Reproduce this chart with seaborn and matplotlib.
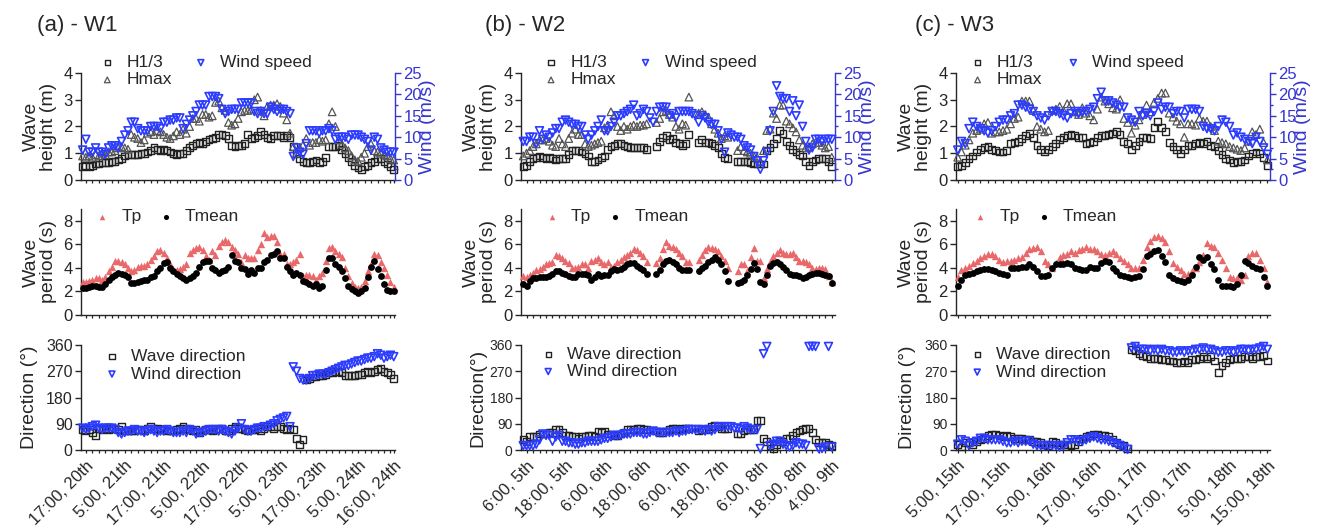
import numpy as np
import pandas as pd
import matplotlib
matplotlib.use("Agg")
import matplotlib.pyplot as plt
import seaborn as sns
from matplotlib.ticker import FixedLocator, MultipleLocator

nan = np.nan

# ---------------- data: panel (a) W1, hourly from 16:00 20th ----------------
a_labels = ["17:00, 20th", "5:00, 21th", "17:00, 21th", "5:00, 22th", "17:00, 22th",
            "5:00, 23th", "17:00, 23th", "5:00, 24th", "16:00, 24th"]
a_label_hours = [1, 13, 25, 37, 49, 61, 73, 85, 96]
a_h13 = [0.5, 0.55, 0.5, 0.55, 0.6, 0.6, 0.65, 0.65, 0.65, 0.7,
         0.7, 0.75, 0.8, 0.9, 0.95, 0.95, 0.95, 0.95, 1.0, 1.0,
         1.05, 1.1, 1.2, 1.15, 1.1, 1.15, 1.1, 1.05, 1.0, 0.95,
         1.0, 1.0, 1.1, 1.2, 1.3, 1.35, 1.4, 1.35, 1.45, 1.5,
         1.55, 1.6, 1.7, 1.7, 1.65, 1.55, 1.3, 1.25, 1.3, 1.3,
         1.35, 1.7, 1.55, 1.6, 1.65, 1.8, 1.7, 1.6, 1.55, 1.65,
         1.65, 1.65, 1.6, 1.65, 1.6, 1.25, 1.0, 0.8, 0.7, 0.65,
         0.65, 0.7, 0.75, 0.65, 0.7, 0.85, 1.25, 1.25, 1.25, 1.3,
         1.15, 1.0, 0.85, 0.7, 0.55, 0.45, 0.4, 0.5, 0.55, 0.65,
         0.7, 0.8, 0.8, 0.7, 0.6, 0.5, 0.4]
a_hmax = [0.9, 0.85, 0.9, 0.85, 0.95, 0.9, 1.0, 0.95, 1.05, 1.05,
          1.1, 1.2, 1.25, 1.2, 1.15, 1.7, 1.6, 1.55, 1.4, 1.5,
          1.75, 1.8, 1.7, 1.85, 1.8, 1.7, 1.6, 1.55, 1.65, 1.8,
          1.7, 1.9, 1.75, 2.0, 2.3, 2.3, 2.2, 2.45, 2.45, 2.35,
          2.4, 2.9, 2.95, 2.7, 2.6, 2.15, 2.05, 2.1, 2.3, 2.55,
          2.6, 2.6, 2.65, 3.0, 3.1, 2.6, 2.4, 2.75, 2.8, 2.8,
          2.85, 2.75, 2.5, 2.25, 1.75, 1.25, 1.0, 1.2, 1.3, 1.55,
          1.3, 1.4, 1.4, 1.5, 1.45, 1.5, 2.1, 2.55, 2.0, 1.5,
          1.35, 1.2, 1.1, 0.9, 0.75, 0.7, 0.85, 1.0, 1.25, 1.35,
          1.1, 1.05, 1.0, 0.95, 0.9, 0.8, 0.75]
a_wind = [7.0, 9.5, 6.5, 6.5, 7.5, 6.5, 6.5, 6.0, 7.5, 8.0,
          8.0, 7.5, 9.0, 10.5, 11.5, 13.5, 13.5, 12.0, 11.5, 11.5,
          11.5, 12.5, 12.5, 12.5, 12.0, 13.5, 13.5, 14.0, 14.0, 14.5,
          14.5, 12.0, 13.0, 14.0, 15.0, 16.0, 17.5, 17.5, 17.5, 19.5,
          19.5, 19.5, 19.0, 16.5, 15.5, 16.0, 16.5, 16.5, 16.5, 18.0,
          18.0, 18.0, 18.0, 16.0, 15.5, 16.0, 15.5, 15.5, 17.0, 16.5,
          16.0, 16.5, 16.5, 16.0, 15.5, 5.5, 7.5, 6.5, 6.0, 8.5,
          11.5, 11.5, 11.5, 11.0, 11.5, 11.5, 12.0, 11.5, 9.5, 10.0,
          10.0, 10.0, 9.5, 10.5, 10.5, 10.5, 10.0, 9.5, 9.0, 7.0,
          10.0, 9.5, 7.5, 7.0, 6.5, 6.5, 6.5]
a_tp = [2.8, 2.8, 2.9, 3.0, 3.1, 3.1, 3.0, 3.2, 3.7, 4.1,
        4.6, 4.6, 4.5, 4.3, 4.0, 3.7, 3.8, 4.1, 4.2, 4.2,
        4.3, 4.7, 5.0, 5.4, 5.5, 5.3, 4.8, 4.3, 3.9, 3.8,
        3.9, 4.1, 4.3, 5.3, 5.5, 5.7, 5.8, 5.5, 5.0, 4.7,
        5.4, 5.1, 5.9, 6.2, 6.4, 6.2, 5.8, 5.5, 5.2, 4.5,
        5.1, 4.8, 4.8, 4.8, 5.5, 6.0, 7.0, 6.6, 6.7, 6.7,
        6.2, 5.2, 5.2, 4.3, 4.3, 4.5, 4.7, 5.2, 3.3, 3.4,
        3.4, 3.3, 3.0, 3.3, 3.6, 4.6, 5.7, 5.8, 5.4, 5.2,
        4.9, 4.0, 3.3, 2.7, 2.4, 2.3, 2.4, 2.9, 3.7, 4.3,
        5.2, 5.1, 4.5, 4.0, 3.4, 2.8, 2.4]
a_tm = [2.3, 2.3, 2.4, 2.5, 2.5, 2.4, 2.4, 2.6, 3.0, 3.2,
        3.4, 3.6, 3.5, 3.4, 3.2, 2.7, 2.7, 2.8, 2.9, 3.0,
        3.0, 3.2, 3.3, 3.7, 4.0, 4.4, 4.5, 4.0, 3.7, 3.5,
        3.3, 3.1, 3.0, 3.1, 3.3, 3.6, 4.1, 4.5, 4.6, 4.6,
        4.0, 3.8, 3.6, 3.7, 3.8, 4.1, 5.1, 4.6, 4.5, 4.0,
        3.9, 3.5, 3.8, 3.6, 4.0, 4.0, 4.5, 4.7, 5.1, 5.2,
        5.4, 4.8, 4.8, 4.1, 3.7, 3.4, 3.6, 3.4, 2.9, 2.8,
        2.6, 2.5, 2.6, 2.3, 2.5, 3.8, 4.8, 4.8, 4.3, 4.1,
        3.7, 3.1, 2.5, 2.2, 2.0, 1.9, 2.0, 2.3, 3.2, 4.1,
        4.6, 3.9, 3.3, 2.6, 2.1, 2.0, 2.0]
a_wavedir = [70, 65, 70, 60, 50, 75, 70, 75, 70, 75,
             75, 70, 80, 65, 65, 65, 65, 70, 70, 65,
             75, 80, 75, 75, 70, 70, 65, 65, 65, 70,
             75, 80, 75, 70, 65, 70, 60, 65, 70, 70,
             65, 70, 75, 75, 65, 65, 75, 80, 75, 75,
             70, 65, 70, 70, 75, 65, 75, 80, 80, 75,
             80, 80, 75, 70, 75, 70, 40, 20, 35, 240,
             245, 250, 250, 255, 255, 260, 265, 265, 270, 270,
             265, 255, 255, 255, 255, 260, 260, 265, 270, 265,
             270, 275, 280, 270, 265, 260, 245]
a_winddir = [75, 70, 75, 80, 85, 75, 70, 75, 75, 75,
             70, 60, 55, 60, 65, 65, 70, 65, 65, 60,
             65, 70, 65, 60, 65, 65, 70, 65, 60, 60,
             60, 65, 60, 70, 65, 55, 60, 60, 65, 70,
             70, 70, 65, 70, 65, 60, 55, 65, 75, 90,
             70, 65, 65, 70, 75, 75, 80, 80, 85, 90,
             100, 105, 110, 115, 80, 285, 270, 245, 240, 240,
             245, 255, 255, 260, 260, 260, 265, 270, 275, 280,
             285, 290, 290, 295, 300, 305, 305, 310, 315, 315,
             320, 330, 325, 315, 320, 325, 320]

# ---------------- data: panel (b) W2, hourly from 5:00 5th ----------------
b_labels = ["6:00, 5th", "18:00, 5th", "6:00, 6th", "18:00, 6th", "6:00, 7th",
            "18:00, 7th", "6:00, 8th", "18:00, 8th", "4:00, 9th"]
b_label_hours = [1, 13, 25, 37, 49, 61, 73, 85, 95]
b_h13 = [0.5, 0.55, 0.7, 0.8, 0.85, 0.9, 0.85, 0.8, 0.85, 0.8,
         0.75, 0.8, 0.8, 0.8, 0.95, 1.1, 1.1, 1.1, 1.05, 1.0,
         0.9, 0.7, 0.7, 0.75, 0.85, 0.9, 1.15, 1.25, 1.3, 1.35,
         1.35, 1.3, 1.25, 1.2, 1.2, 1.2, 1.2, 1.2, 1.15, nan,
         nan, 1.25, 1.45, 1.6, 1.65, 1.5, 1.55, 1.4, 1.35, 1.3,
         1.35, 1.7, nan, nan, 1.4, 1.5, 1.4, 1.4, 1.35, 1.3,
         1.2, 1.0, 0.85, 0.8, nan, nan, 0.7, 0.7, 0.7, 0.7,
         0.65, 0.6, 0.6, 0.6, 0.6, 1.1, 1.2, 1.35, 1.55, 1.85,
         1.75, 1.45, 1.3, 1.15, 1.05, 0.95, 0.9, 0.7, 0.55, 0.7,
         0.75, 0.8, 0.8, 0.8, 0.7, 0.5]
b_hmax = [0.9, 1.0, 1.1, 1.25, 1.35, 1.5, 1.5, 1.55, 1.45, 1.3,
          1.25, 1.55, 1.35, 1.25, 1.55, 1.75, 1.9, 1.7, 1.7, 1.35,
          1.25, 1.3, 1.35, 1.4, 1.45, 1.95, 2.05, 2.55, 2.4, 2.0,
          1.85, 2.0, 1.9, 2.0, 2.05, 2.0, 2.05, 2.05, 2.1, nan,
          nan, 2.15, 2.3, 2.55, 2.6, 2.45, 2.35, 2.0, 1.9, 2.1,
          2.05, 3.1, nan, nan, 2.5, 2.55, 2.45, 2.35, 2.1, 1.9,
          1.75, 1.55, 1.65, 1.6, nan, nan, 1.1, 1.25, 1.1, 1.05,
          1.0, 0.9, 0.85, 0.7, 1.1, 1.85, 1.9, 2.5, 2.3, 2.8,
          2.8, 2.2, 2.1, 1.95, 1.8, 1.5, 1.3, 1.2, 1.25, 1.35,
          1.4, 1.4, 1.3, 1.2, 1.25, 0.85]
b_wind = [9.0, 9.0, 10.0, 10.0, 8.5, 11.5, 9.5, 10.5, 10.0, 11.0,
          12.0, 12.0, 13.5, 14.0, 13.5, 13.0, 13.0, 12.5, 12.5, 10.5,
          9.5, 10.5, 11.5, 12.5, 14.0, 11.5, 11.5, 12.5, 13.5, 15.0,
          15.0, 15.5, 16.0, 16.5, 17.5, 15.0, 15.5, 16.5, 16.0, 14.5,
          13.5, 16.0, 17.0, 17.0, 17.0, 15.0, 15.5, 14.5, 16.0, 16.0,
          16.0, 16.0, 15.5, 15.0, 13.5, 15.0, 14.5, 13.5, 13.0, 13.0,
          11.5, 9.5, 6.5, 11.0, 10.5, 10.0, 10.0, 9.5, 8.0, 7.5,
          7.0, 5.5, 4.5, 2.5, 4.5, 6.5, 11.5, 16.0, 22.0, 19.5,
          19.0, 19.0, 16.0, 18.5, 15.0, 17.5, 12.5, 9.0, 7.0, 7.5,
          9.5, 9.5, 9.0, 9.5, 9.5, 9.5]
b_tp = [3.3, 3.2, 3.4, 3.6, 3.8, 3.9, 4.1, 4.3, 4.4, 4.5,
        5.1, 5.0, 4.8, 4.6, 4.4, 4.0, 4.0, 4.1, 4.3, 4.3,
        4.0, 4.6, 4.7, 4.8, 4.5, 4.3, 4.5, 4.1, 4.2, 4.5,
        4.7, 4.9, 5.1, 5.3, 5.6, 5.5, 5.3, 5.0, 4.5, nan,
        nan, 4.4, 4.8, 5.6, 6.2, 5.9, 5.8, 5.6, 5.3, 5.0,
        4.5, 4.5, nan, nan, 4.7, 5.1, 5.5, 5.8, 5.7, 5.6,
        5.4, 5.0, 4.6, 4.0, nan, nan, 3.7, 4.3, 4.3, 3.7,
        4.9, 5.7, 4.6, 4.6, 3.1, 3.9, 4.5, 5.0, 5.3, 5.5,
        5.3, 5.2, 5.2, 5.3, 4.9, 4.6, 4.6, 4.5, 4.3, 4.0,
        3.9, 4.0, 4.0, 3.9, 3.3, 2.8]
b_tm = [2.6, 2.5, 2.9, 3.1, 3.1, 3.2, 3.2, 3.2, 3.3, 3.5,
        3.7, 3.7, 3.6, 3.5, 3.3, 3.2, 3.2, 3.5, 3.5, 3.5,
        3.4, 3.0, 3.2, 3.5, 3.3, 3.4, 3.4, 3.7, 3.9, 3.8,
        3.9, 4.1, 4.3, 4.4, 4.4, 4.2, 4.0, 3.8, 3.5, nan,
        nan, 3.5, 3.8, 4.3, 4.6, 4.7, 4.5, 4.3, 4.0, 3.8,
        3.8, 3.8, nan, nan, 3.7, 4.0, 4.2, 4.5, 4.7, 4.9,
        4.7, 4.3, 3.7, 2.9, nan, nan, 2.7, 2.8, 3.0, 3.4,
        3.9, 4.4, 3.9, 2.8, 2.6, 3.4, 4.2, 4.4, 4.5, 4.3,
        4.1, 3.8, 3.5, 3.4, 3.4, 3.3, 3.1, 3.2, 3.4, 3.5,
        3.6, 3.6, 3.5, 3.4, 3.3, 2.7]
b_wavedir = [35, 30, 45, 45, 45, 55, 55, 55, 60, 60,
             70, 70, 60, 50, 50, 45, 45, 40, 45, 45,
             50, 50, 45, 65, 60, 65, 55, 55, 50, 50,
             55, 60, 70, 70, 70, 75, 75, 70, 70, nan,
             nan, 65, 60, 60, 65, 70, 75, 75, 70, 75,
             75, 75, nan, nan, 65, 70, 70, 75, 80, 85,
             80, 75, 75, 75, nan, nan, 55, 55, 65, 70,
             70, 70, 100, 100, 40, 30, 15, 5, 20, 30,
             30, 40, 40, 50, 60, 65, 70, 75, 75, 60,
             35, 25, 25, 25, 20, 15]
b_winddir = [15, 15, 15, 15, 20, 35, 55, 50, 50, 30,
             45, 50, 30, 30, 25, 25, 20, 20, 25, 25,
             30, 30, 30, 30, 35, 40, 40, 45, 50, 50,
             50, 55, 55, 55, 60, 60, 60, 55, 55, 60,
             65, 60, 60, 60, 60, 60, 60, 65, 60, 65,
             65, 70, 70, 70, 70, 70, 65, 70, 65, 70,
             80, 80, 80, 80, 80, 75, 75, 70, 80, 75,
             70, 70, 70, 5, 330, 355, 15, 20, 30, 30,
             20, 15, 10, 15, 25, 20, 20, 15, 355, 355,
             355, 5, 5, 10, 355, 10]

# ---------------- data: panel (c) W3, hourly from 5:00 15th ----------------
c_labels = ["5:00, 15th", "17:00, 15th", "5:00, 16th", "17:00, 16th", "5:00, 17th",
            "17:00, 17th", "5:00, 18th", "15:00, 18th"]
c_label_hours = [0, 12, 24, 36, 48, 60, 72, 82]
c_h13 = [0.5, 0.55, 0.65, 0.8, 0.9, 1.05, 1.15, 1.2, 1.25, 1.15,
         1.1, 1.05, 1.05, 1.1, 1.35, 1.4, 1.45, 1.55, 1.65, 1.75,
         1.6, 1.3, 1.15, 1.05, 1.15, 1.25, 1.35, 1.5, 1.6, 1.65,
         1.7, 1.65, 1.6, 1.6, 1.35, 1.4, 1.45, 1.6, 1.65, 1.65,
         1.7, 1.75, 1.8, 1.7, 1.45, 1.35, 1.15, 1.3, 1.45, 1.6,
         1.6, 1.55, 1.95, 2.2, 1.95, 1.8, 1.4, 1.25, 1.15, 1.0,
         1.15, 1.3, 1.3, 1.35, 1.4, 1.35, 1.45, 1.3, 1.25, 1.1,
         0.95, 0.8, 0.75, 0.65, 0.7, 0.7, 0.75, 0.9, 1.0, 1.05,
         1.0, 0.85, 0.55]
c_hmax = [0.85, 1.05, 1.3, 1.5, 1.75, 1.85, 1.9, 2.1, 2.15, 1.75,
          1.8, 1.8, 1.85, 1.9, 2.1, 2.3, 2.35, 2.95, 2.95, 2.95,
          2.6, 2.0, 1.9, 1.8, 1.85, 2.6, 2.65, 2.75, 2.6, 2.85,
          2.85, 2.55, 2.45, 2.7, 2.5, 2.4, 2.25, 2.65, 3.1, 2.95,
          2.85, 2.7, 2.65, 3.0, 2.3, 2.15, 1.75, 2.05, 2.25, 2.45,
          2.8, 2.55, 2.9, 3.05, 3.25, 3.25, 2.5, 2.35, 2.2, 2.1,
          1.6, 2.1, 2.1, 2.05, 2.3, 2.2, 2.2, 2.0, 1.85, 1.45,
          1.4, 1.35, 1.25, 1.2, 1.15, 1.1, 1.2, 1.45, 1.8, 1.7,
          1.9, 1.4, 0.75]
c_wind = [7.0, 9.0, 8.5, 12.0, 13.5, 12.5, 12.0, 11.5, 11.0, 11.5,
          12.5, 13.5, 14.0, 14.0, 15.0, 15.5, 17.5, 17.5, 17.0, 16.5,
          16.0, 15.0, 14.5, 14.0, 15.0, 16.0, 16.0, 15.5, 15.0, 14.5,
          15.5, 16.0, 15.5, 16.0, 16.0, 16.5, 17.0, 19.0, 20.5, 18.5,
          18.5, 18.0, 17.5, 17.0, 17.0, 14.5, 14.0, 13.5, 16.0, 15.0,
          15.5, 15.0, 16.0, 18.0, 16.5, 17.0, 17.0, 15.5, 16.0, 16.0,
          14.5, 16.5, 16.5, 16.5, 16.0, 12.5, 12.0, 12.0, 11.5, 12.5,
          14.0, 13.5, 12.5, 10.5, 11.0, 10.0, 9.5, 9.0, 8.5, 10.0,
          9.0, 7.5, 6.0]
c_tp = [3.2, 3.8, 4.0, 4.2, 4.4, 4.6, 4.8, 5.0, 5.2, 5.2,
        5.0, 4.7, 4.5, 4.6, 4.6, 4.7, 4.8, 4.9, 5.3, 5.6,
        5.7, 5.8, 5.4, 4.6, 4.3, 4.0, 4.4, 4.9, 5.1, 5.2,
        5.4, 5.3, 5.5, 5.6, 5.8, 5.6, 5.6, 5.4, 5.2, 5.1,
        5.3, 5.4, 5.2, 4.8, 4.6, 4.3, 4.0, 4.0, 4.0, 4.7,
        5.8, 6.3, 6.6, 6.7, 6.5, 6.2, 5.4, 4.4, 4.1, 3.8,
        3.5, 3.5, 3.7, 4.0, 4.5, 5.1, 6.1, 5.9, 5.8, 5.3,
        4.7, 4.0, 3.2, 3.1, 3.1, 3.0, 3.4, 5.0, 5.3, 5.3,
        4.7, 4.0, 2.8]
c_tm = [2.5, 3.0, 3.4, 3.5, 3.6, 3.7, 3.8, 3.9, 3.9, 3.8,
        3.7, 3.6, 3.5, 3.4, 4.0, 4.0, 4.0, 4.1, 4.1, 4.3,
        4.1, 3.7, 3.3, 3.3, 3.4, 4.0, 4.3, 4.3, 4.3, 4.4,
        4.3, 4.0, 3.9, 3.8, 3.8, 4.1, 4.0, 4.0, 4.4, 4.6,
        4.5, 4.0, 3.7, 3.4, 3.3, 3.2, 3.1, 3.2, 3.3, 3.9,
        5.0, 5.2, 5.4, 5.5, 5.0, 4.5, 3.4, 3.1, 3.0, 2.9,
        2.8, 3.0, 3.4, 4.1, 4.9, 4.7, 4.9, 4.3, 3.9, 3.0,
        2.5, 2.5, 2.5, 2.4, 2.6, 3.4, 4.6, 4.4, 4.2, 4.0,
        3.9, 3.2, 2.5]
c_wavedir = [20, 10, 25, 25, 20, 30, 35, 40, 50, 55,
             55, 50, 45, 50, 45, 40, 40, 40, 35, 35,
             30, 30, 25, 20, 15, 30, 25, 20, 20, 20,
             15, 20, 30, 40, 45, 50, 55, 55, 50, 50,
             45, 35, 25, 20, 15, 5, 345, 340, 330, 325,
             320, 315, 315, 315, 310, 310, 305, 305, 300, 300,
             305, 300, 310, 310, 315, 320, 315, 320, 305, 265,
             290, 300, 310, 315, 315, 315, 320, 320, 315, 320,
             320, 325, 305]
c_winddir = [20, 35, 30, 15, 25, 30, 40, 40, 35, 35,
             35, 35, 30, 25, 25, 30, 25, 30, 30, 30,
             20, 15, 15, 15, 15, 15, 15, 10, 15, 25,
             35, 35, 30, 30, 35, 40, 45, 40, 35, 35,
             30, 25, 20, 15, 8, 2, 350, 355, 345, 345,
             345, 340, 345, 340, 345, 340, 340, 335, 335, 340,
             335, 340, 340, 345, 345, 350, 345, 345, 340, 335,
             335, 340, 340, 335, 340, 345, 345, 340, 345, 345,
             350, 355, 345]

titles = ["(a) - W1", "(b) - W2", "(c) - W3"]
dir_ylabels = ["Direction (°)", "Direction(°)", "Direction (°)"]

# ---------------- style ----------------
sns.set_theme(style="ticks")
plt.rcParams["font.family"] = ["Liberation Sans", "DejaVu Sans"]
plt.rcParams["axes.linewidth"] = 1.0

BLUE = "#2b3cff"
AXBLUE = "#3535d0"
RED = "#e9686a"
DARK = "#222222"
GREY = "#555555"

panels = [
    dict(title=titles[0], labels=a_labels, lab_h=a_label_hours, h13=a_h13, hmax=a_hmax,
         wind=a_wind, tp=a_tp, tm=a_tm, wdir=a_wavedir, udir=a_winddir, dirlab=dir_ylabels[0],
         xlim=(-0.5, 96.4), left=81, tx=37, leg_top=(0.056, 0.354), leg_mid=0.040,
         leg_bot=(0.071, 0.96), dir_fs=11.5, dir_lab_x=-0.137),
    dict(title=titles[1], labels=b_labels, lab_h=b_label_hours, h13=b_h13, hmax=b_hmax,
         wind=b_wind, tp=b_tp, tm=b_tm, wdir=b_wavedir, udir=b_winddir, dirlab=dir_ylabels[1],
         xlim=(-0.7, 96.0), left=521, tx=485, leg_top=(0.068, 0.369), leg_mid=0.070,
         leg_bot=(0.059, 0.984), dir_fs=10, dir_lab_x=-0.111),
    dict(title=titles[2], labels=c_labels, lab_h=c_label_hours, h13=c_h13, hmax=c_hmax,
         wind=c_wind, tp=c_tp, tm=c_tm, wdir=c_wavedir, udir=c_winddir, dirlab=dir_ylabels[2],
         xlim=(-0.45, 82.7), left=956, tx=915, leg_top=(0.041, 0.346), leg_mid=0.049,
         leg_bot=(0.040, 0.978), dir_fs=10, dir_lab_x=-0.127),
]

FW, FH = 1328, 528
fig = plt.figure(figsize=(FW / 100, FH / 100), dpi=100)


def pts(ax, y, marker, s, fc, ec, lw, label, z=3):
    df = pd.DataFrame({"t": np.arange(len(y)), "v": y}).dropna()
    sns.scatterplot(data=df, x="t", y="v", ax=ax, marker=marker, s=s,
                    facecolor=fc, edgecolor=ec, linewidth=lw, label=label,
                    legend=False, zorder=z, clip_on=False)
    ax.set_xlabel("")
    ax.set_ylabel("")


def legend(ax, x, y, ncol=1, colsp=1.0):
    h, l = ax.get_legend_handles_labels()
    return ax.legend(h, l, loc="upper left", bbox_to_anchor=(x, y), frameon=False,
                     fontsize=12.5, handlelength=1.0, handletextpad=0.6,
                     labelspacing=0.12, borderpad=0, borderaxespad=0,
                     markerscale=0.75, ncol=ncol, columnspacing=colsp)


W = 314 / FW
for P in panels:
    L = P["left"] / FW
    axT = fig.add_axes([L, 1 - 180 / FH, W, 107 / FH])
    axM = fig.add_axes([L, 1 - 315 / FH, W, 106 / FH])
    axB = fig.add_axes([L, 1 - 450 / FH, W, 105 / FH])
    axW = axT.twinx()

    # top: wave heights + wind speed
    pts(axT, P["h13"], "s", 24, "none", DARK, 1.0, "H1/3")
    pts(axT, P["hmax"], "^", 30, "none", GREY, 0.9, "Hmax")
    pts(axW, P["wind"], "v", 32, "none", BLUE, 1.2, "Wind speed")
    axT.set_ylim(0, 4)
    axT.yaxis.set_major_locator(MultipleLocator(1))
    axW.set_ylim(0, 25)
    axW.yaxis.set_major_locator(MultipleLocator(5))
    axW.yaxis.set_minor_locator(MultipleLocator(2.5))
    axT.set_ylabel("Wave\nheight (m)", fontsize=14, linespacing=1.05)
    axT.yaxis.set_label_coords(-0.075, 0.5)
    axW.set_ylabel("Wind (m/s)", fontsize=14, color=AXBLUE)
    axW.yaxis.set_label_coords(1.078, 0.5)
    for sp in ("top", "left", "bottom"):
        axW.spines[sp].set_visible(False)
    axW.spines["right"].set_color(AXBLUE)
    axW.spines["right"].set_linewidth(1.0)
    axW.tick_params(axis="y", which="both", colors=AXBLUE, labelcolor=AXBLUE,
                    direction="out", width=1, labelsize=12, pad=2)
    axW.tick_params(axis="y", which="major", length=4)
    axW.tick_params(axis="y", which="minor", length=2.5)
    legend(axT, P["leg_top"][0], 1.168)
    legend(axW, P["leg_top"][1], 1.168)

    # middle: periods
    pts(axM, P["tp"], "^", 28, RED, RED, 0, "Tp")
    pts(axM, P["tm"], "o", 24, "black", "black", 0, "Tmean")
    axM.set_ylim(0, 9)
    axM.yaxis.set_major_locator(FixedLocator([0, 2, 4, 6, 8]))
    axM.set_ylabel("Wave\nperiod (s)", fontsize=14, linespacing=1.05)
    axM.yaxis.set_label_coords(-0.075, 0.5)
    legend(axM, P["leg_mid"], 0.997, ncol=2, colsp=0.9)

    # bottom: directions
    pts(axB, P["wdir"], "s", 24, "none", DARK, 1.0, "Wave direction")
    pts(axB, P["udir"], "v", 32, "none", BLUE, 1.2, "Wind direction")
    axB.set_ylim(0, 360)
    axB.yaxis.set_major_locator(FixedLocator([0, 90, 180, 270, 360]))
    axB.set_ylabel(P["dirlab"], fontsize=14)
    axB.yaxis.set_label_coords(P["dir_lab_x"], 0.5)
    legend(axB, P["leg_bot"][0], P["leg_bot"][1])

    n = len(P["h13"])
    start = P["lab_h"][0]
    minor = list(range(start, n, 2))
    for ax in (axT, axM, axB):
        ax.spines["top"].set_visible(False)
        ax.spines["right"].set_visible(False)
        ax.set_xlim(*P["xlim"])
        ax.xaxis.set_major_locator(FixedLocator(P["lab_h"]))
        ax.xaxis.set_minor_locator(FixedLocator(minor))
        ax.tick_params(axis="x", which="both", direction="out", length=2.5, width=0.9)
        ax.tick_params(axis="y", direction="out", length=4, width=1, labelsize=12, pad=2)
        ax.grid(False)
    axB.tick_params(axis="y", labelsize=P["dir_fs"])
    axW.set_xlim(*P["xlim"])
    axT.tick_params(axis="x", labelbottom=False)
    axM.tick_params(axis="x", labelbottom=False)
    axB.set_xticks(P["lab_h"])
    axB.set_xticklabels(P["labels"], rotation=45, ha="right", rotation_mode="anchor",
                        fontsize=12)

    fig.text(P["tx"] / FW, 1 - 25 / FH, P["title"], fontsize=16, va="center", ha="left")

fig.savefig("out.png", dpi=100)
